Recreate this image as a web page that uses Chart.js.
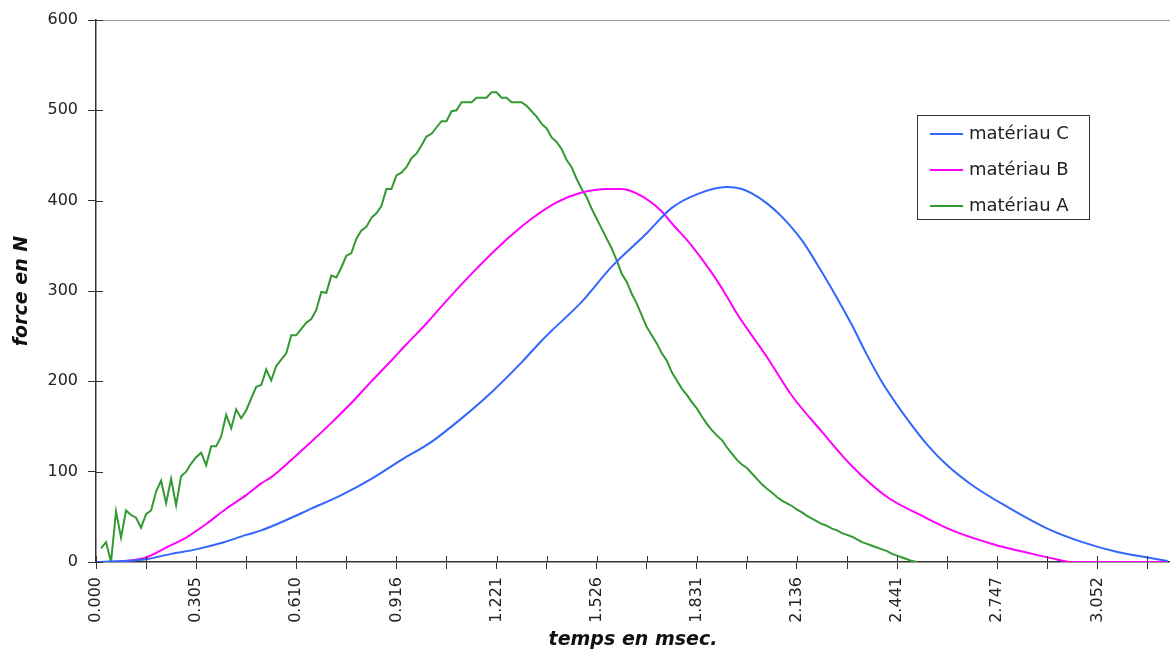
<!DOCTYPE html>
<html>
<head>
<meta charset="utf-8">
<script src="https://cdn.jsdelivr.net/npm/chart.js@4.4.1/dist/chart.umd.min.js"></script>
<style>
  html, body { margin: 0; padding: 0; background: #fff; }
  #wrap { width: 1170px; height: 652px; }
</style>
</head>
<body>
<div id="wrap"><canvas id="chart" width="1170" height="652"></canvas></div>
<script>
// one sample = 0.0152588 ms (labels every 20 samples)
const sampleMs = 0.0152588;

const timeLabels = ['0.000', '0.305', '0.610', '0.916', '1.221', '1.526', '1.831', '2.136', '2.441', '2.747', '3.052'];
const timeMax = 3.273;

const seriesNames = ['matériau C', 'matériau B', 'matériau A'];
const seriesColors = ['#3366FF', '#FF00FF', '#339933'];

// matériau A : one value per sample, from sample 1
const aStart = 1;
const forceA = [
  15, 22, 0, 56, 27, 57, 52, 49, 38, 53,
  57, 78, 90, 65, 92, 63, 95, 100, 109, 116,
  121, 107, 128, 128, 139, 163, 148, 169, 159, 168,
  181, 194, 196, 213, 201, 217, 224, 231, 251, 251,
  258, 265, 269, 279, 299, 298, 317, 315, 326, 339,
  342, 358, 367, 371, 381, 386, 394, 413, 413, 428,
  431, 437, 447, 452, 461, 471, 474, 481, 488, 488,
  499, 500, 509, 509, 509, 514, 514, 514, 520, 520,
  514, 514, 509, 509, 509, 505, 499, 493, 485, 480,
  470, 465, 457, 445, 437, 424, 413, 404, 391, 380,
  369, 358, 347, 334, 319, 310, 297, 286, 273, 260,
  251, 242, 231, 223, 210, 201, 192, 185, 177, 170,
  161, 153, 146, 140, 135, 127, 120, 113, 108, 104,
  98, 92, 86, 81, 77, 72, 68, 65, 62, 58,
  55, 51, 48, 45, 42, 40, 37, 35, 32, 30,
  28, 25, 22, 20, 18, 16, 14, 12, 9, 7,
  5, 3, 1, 0
];

// matériau B : sample index / force
const sampB = [0, 3, 6, 10, 14, 18, 22, 26, 30, 33, 35, 39, 43, 47, 51, 55, 59, 62, 66, 69, 75, 82, 87, 92, 97, 102, 105, 109, 113, 115, 119, 123, 126, 128, 134, 139, 145, 151, 158, 165, 171, 179, 187, 191, 195, 214];
const forceB = [0, 0, 1, 5, 16, 27, 42, 59, 74, 87, 94, 113, 133, 154, 176, 200, 223, 241, 264, 283, 319, 357, 380, 398, 409, 413, 413, 405, 388, 375, 350, 320, 294, 275, 227, 184, 144, 106, 72, 51, 35, 20, 9, 4, 0, 0];

// matériau C : sample index / force
const sampC = [0, 5, 10, 15, 20, 25, 30, 33, 37, 43, 49, 55, 61, 67, 73, 79, 85, 89, 91, 97, 103, 110, 115, 120, 126, 129, 131, 134, 137, 141, 144, 147, 151, 154, 157, 161, 166, 170, 175, 182, 190, 197, 204, 210, 214];
const forceC = [0, 1, 3, 9, 14, 21, 30, 35, 44, 59, 74, 92, 113, 133, 159, 188, 221, 245, 256, 288, 327, 364, 392, 407, 415, 413, 408, 397, 382, 356, 330, 302, 262, 229, 199, 166, 130, 107, 85, 61, 37, 22, 11, 5, 1];

const ptsA = forceA.map((v, k) => ({ x: (aStart + k) * sampleMs, y: v }));
const ptsB = sampB.map((s, k) => ({ x: s * sampleMs, y: forceB[k] }));
const ptsC = sampC.map((s, k) => ({ x: s * sampleMs, y: forceC[k] }));

const FONT = '"DejaVu Sans", sans-serif';
const AXIS = '#333';

// ticks that cross the axis: Chart.js draws the outer half, this draws the inner half
const innerTicks = {
  id: 'innerTicks',
  afterDatasetsDraw(chart) {
    const { ctx, chartArea: a, scales: { x, y } } = chart;
    ctx.save();
    ctx.strokeStyle = AXIS;
    ctx.lineWidth = 1;
    ctx.beginPath();
    x.ticks.forEach(t => {
      const px = Math.round(x.getPixelForValue(t.value)) + 0.5;
      ctx.moveTo(px, a.bottom);
      ctx.lineTo(px, a.bottom - 6);
    });
    y.ticks.forEach(t => {
      const py = Math.round(y.getPixelForValue(t.value)) + 0.5;
      ctx.moveTo(a.left, py);
      ctx.lineTo(a.left + 7, py);
    });
    ctx.stroke();
    ctx.restore();
  }
};

// boxed legend inside the plot, like the original
const boxLegend = {
  id: 'boxLegend',
  afterDraw(chart) {
    const ctx = chart.ctx;
    ctx.save();
    ctx.fillStyle = '#fff';
    ctx.fillRect(917.5, 115.5, 172, 104);
    ctx.strokeStyle = AXIS;
    ctx.lineWidth = 1;
    ctx.strokeRect(917.5, 115.5, 172, 104);
    ctx.font = '18px ' + FONT;
    ctx.textBaseline = 'middle';
    chart.data.datasets.forEach((ds, i) => {
      const cy = 134 + i * 36;
      ctx.strokeStyle = ds.borderColor;
      ctx.lineWidth = 2;
      ctx.beginPath();
      ctx.moveTo(930, cy);
      ctx.lineTo(963, cy);
      ctx.stroke();
      ctx.fillStyle = '#222';
      ctx.fillText(ds.label, 969, cy);
    });
    ctx.restore();
  }
};

new Chart(document.getElementById('chart'), {
  type: 'line',
  data: {
    datasets: [
      { label: seriesNames[0], data: ptsC, borderColor: seriesColors[0], cubicInterpolationMode: 'monotone' },
      { label: seriesNames[1], data: ptsB, borderColor: seriesColors[1], cubicInterpolationMode: 'monotone' },
      { label: seriesNames[2], data: ptsA, borderColor: seriesColors[2], tension: 0 }
    ]
  },
  options: {
    responsive: false,
    animation: false,
    parsing: false,
    layout: { padding: { top: 20, right: 0, left: 0, bottom: 0 } },
    elements: {
      point: { radius: 0 },
      line: { borderWidth: 2, fill: false }
    },
    plugins: {
      legend: { display: false },
      tooltip: { enabled: false }
    },
    scales: {
      x: {
        type: 'linear',
        min: 0,
        max: timeMax,
        afterBuildTicks: s => {
          // major tick at each label, minor tick half way
          const ticks = [];
          for (let k = 0; k * 10 * sampleMs <= timeMax; k++) ticks.push({ value: k * 10 * sampleMs });
          s.ticks = ticks;
        },
        afterFit: s => {
          s.height = 90;
          s.paddingLeft = 0;
          s.paddingRight = 0;
        },
        ticks: {
          autoSkip: false,
          minRotation: 90,
          maxRotation: 90,
          padding: 8,
          color: '#222',
          font: { family: FONT, size: 16 },
          callback: (v, i) => (i % 2 === 0 ? timeLabels[i / 2] : '')
        },
        grid: { drawOnChartArea: false, tickLength: 7, tickColor: AXIS, tickWidth: 1 },
        border: { color: AXIS, width: 1.5 },
        title: {
          display: true,
          text: 'temps en msec.',
          color: '#111',
          font: { family: FONT, size: 19, weight: 'bold', style: 'italic' },
          padding: { top: 0, bottom: 1 }
        }
      },
      y: {
        min: 0,
        max: 600,
        afterFit: s => {
          s.width = 96;
          s.paddingTop = 0;
          s.paddingBottom = 0;
        },
        ticks: {
          stepSize: 100,
          padding: 10,
          color: '#222',
          font: { family: FONT, size: 16 }
        },
        grid: {
          drawOnChartArea: true,
          color: c => (c.tick && c.tick.value === 600 ? '#999' : 'rgba(0,0,0,0)'),
          tickLength: 8,
          tickColor: AXIS,
          tickWidth: 1
        },
        border: { color: AXIS, width: 1.5 },
        title: {
          display: true,
          text: 'force en N',
          color: '#111',
          font: { family: FONT, size: 19, weight: 'bold', style: 'italic' },
          padding: { top: 11, bottom: 0 }
        }
      }
    }
  },
  plugins: [innerTicks, boxLegend]
});
</script>
</body>
</html>
